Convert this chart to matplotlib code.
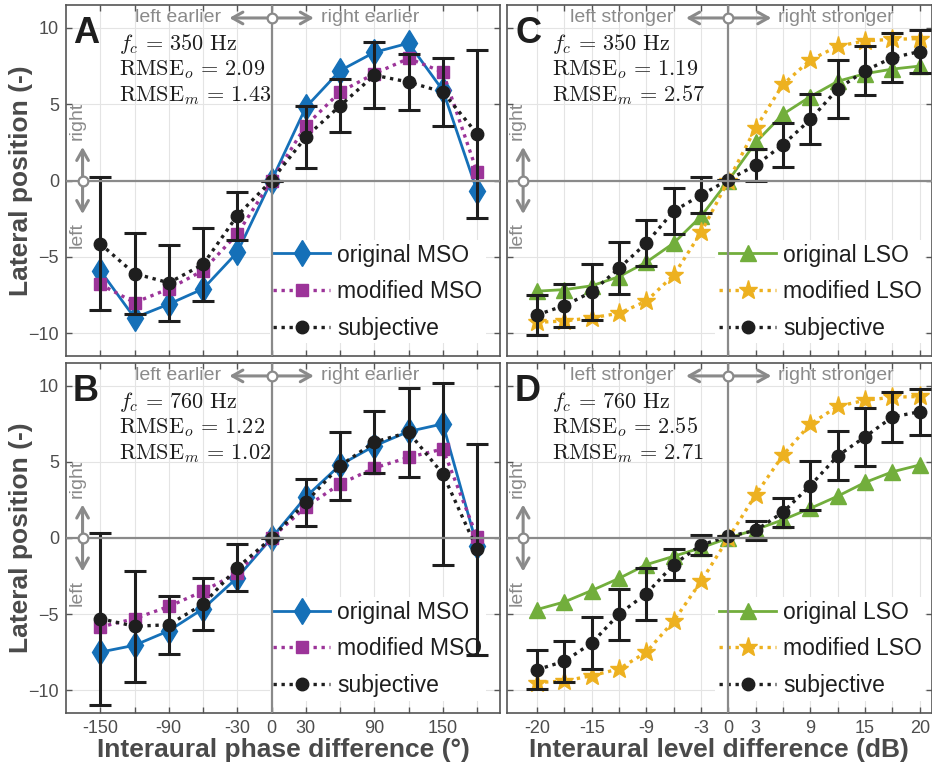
import numpy as np
import matplotlib
matplotlib.use('Agg')
import matplotlib.pyplot as plt

plt.rcParams['font.family'] = ['Liberation Sans', 'DejaVu Sans']
plt.rcParams['mathtext.fontset'] = 'cm'

# x values
ipd = [-150, -120, -90, -60, -30, 0, 30, 60, 90, 120, 150, 180]
ipd_shown = [-150, -90, -30, 0, 30, 90, 150]
ild = [-20, -18, -15, -12, -9, -6, -3, 0, 3, 6, 9, 12, 15, 18, 20]
ild_shown = [-20, -15, -9, -3, 0, 3, 9, 15, 20]

# panel A (IPD, 350 Hz)
a_orig = [-5.9, -9.0, -8.1, -7.1, -4.7, 0, 4.8, 7.2, 8.4, 9.0, 5.9, -0.7]
a_mod = [-6.8, -8.0, -7.1, -5.9, -3.5, 0, 3.6, 5.8, 7.0, 8.0, 7.1, 0.55]
a_subj = [-4.15, -6.1, -6.7, -5.5, -2.3, 0, 2.85, 4.9, 6.9, 6.45, 5.8, 3.05]
a_err = [4.35, 2.63, 2.5, 2.4, 1.57, 0, 2.03, 1.75, 2.18, 1.85, 2.23, 5.5]

# panel B (IPD, 760 Hz)
b_orig = [-7.5, -7.05, -6.1, -4.65, -2.6, 0, 2.7, 4.8, 6.05, 7.0, 7.5, -0.55]
b_mod = [-5.85, -5.3, -4.5, -3.5, -2.3, 0, 2.05, 3.55, 4.6, 5.3, 5.85, 0.05]
b_subj = [-5.3, -5.8, -5.7, -4.35, -1.95, 0, 2.35, 4.75, 6.3, 6.95, 4.2, -0.75]
b_err = [5.65, 3.64, 1.92, 1.72, 1.55, 0, 1.53, 2.23, 2.02, 2.93, 5.97, 6.93]

# panel C (ILD, 350 Hz)
c_orig = [-7.25, -7.15, -6.9, -6.3, -5.35, -4.1, -2.35, 0, 2.5, 4.35, 5.5, 6.5, 7.0, 7.3, 7.5]
c_mod = [-9.3, -9.2, -9.0, -8.7, -7.9, -6.2, -3.4, 0, 3.45, 6.3, 7.9, 8.8, 9.15, 9.25, 9.3]
c_subj = [-8.8, -8.2, -7.3, -5.75, -4.1, -2.0, -0.95, 0.05, 1.0, 2.35, 4.0, 6.0, 7.2, 8.05, 8.45]
c_err = [1.3, 1.42, 1.84, 1.72, 1.53, 1.5, 1.2, 0, 1.06, 1.45, 1.64, 1.88, 1.6, 1.62, 1.41]

# panel D (ILD, 760 Hz)
d_orig = [-4.7, -4.2, -3.45, -2.65, -1.75, -1.2, -0.65, 0, 0.55, 1.2, 1.95, 2.75, 3.65, 4.35, 4.8]
d_mod = [-9.5, -9.4, -9.05, -8.6, -7.5, -5.45, -2.85, 0, 2.85, 5.45, 7.5, 8.65, 9.05, 9.25, 9.3]
d_subj = [-8.65, -8.1, -6.9, -5.0, -3.65, -1.75, -0.45, 0.1, 0.5, 1.7, 3.45, 5.4, 6.65, 7.95, 8.3]
d_err = [1.3, 1.34, 1.69, 1.68, 1.71, 1.02, 0.66, 0, 0.6, 0.95, 1.62, 1.6, 1.89, 1.64, 1.5]

fc_text = ['350', '760', '350', '760']
rmse_o = ['2.09', '1.22', '1.19', '2.55']
rmse_m = ['1.43', '1.02', '2.57', '2.71']

blue = '#1570b8'
purple = '#9c3499'
green = '#72ae3c'
yellow = '#edb120'
black = '#1e1e1e'
gray = '#8a8a8a'
tickc = '#4d4d4d'

fig = plt.figure(figsize=(9.32, 7.67), dpi=100)
W, H = 932.0, 767.0


def make_ax(l, r, t, b):
    return fig.add_axes([l / W, 1 - b / H, (r - l) / W, (b - t) / H])


axA = make_ax(66, 500, 5, 356)
axB = make_ax(66, 500, 363, 713)
axC = make_ax(507, 931.5, 5, 356)
axD = make_ax(507, 931.5, 363, 713)

panels = [
    (axA, 'A', 'MSO', ipd, a_orig, a_mod, a_subj, a_err, blue, purple, 'd', 's'),
    (axB, 'B', 'MSO', ipd, b_orig, b_mod, b_subj, b_err, blue, purple, 'd', 's'),
    (axC, 'C', 'LSO', ild, c_orig, c_mod, c_subj, c_err, green, yellow, '^', '*'),
    (axD, 'D', 'LSO', ild, d_orig, d_mod, d_subj, d_err, green, yellow, '^', '*'),
]

arrow_style = '<->,head_length=0.75,head_width=0.42'

for k, (ax, letter, kind, xv, orig, mod, subj, err, c1, c2, m1, m2) in enumerate(panels):
    is_ipd = kind == 'MSO'
    if is_ipd:
        x = np.array(xv, dtype=float)
        x0 = 0.0
        ax.set_xlim(-180, 200)
        ax.set_xticks(x)
        ax.set_xticklabels([str(v) if v in ipd_shown else '' for v in xv])
        arr_l, arr_r = -37, 37
        txt_l, txt_r = -44, 43
        side_x, side_tx = -165.5, -170.5
        top_l, top_r = 'left earlier', 'right earlier'
        leg_x = 0.469
    else:
        x = np.arange(len(xv), dtype=float)
        x0 = float(xv.index(0))
        ax.set_xlim(-1.1, 14.43)
        ax.set_xticks(x)
        ax.set_xticklabels([str(v) if v in ild_shown else '' for v in xv])
        arr_l, arr_r = 5.45, 8.57
        txt_l, txt_r = 5.0, 8.8
        side_x, side_tx = -0.51, -0.73
        top_l, top_r = 'left stronger', 'right stronger'
        leg_x = 0.491

    ax.set_ylim(-11.5, 11.5)
    ax.set_yticks([-10, -5, 0, 5, 10])
    ax.grid(True, color='#e4e4e4', lw=0.8, zorder=0)
    ax.set_axisbelow(True)
    # zero lines sit on top of everything, as in the original
    ax.axhline(0, color=gray, lw=1.6, zorder=10)
    ax.axvline(x0, color=gray, lw=1.6, zorder=10)

    ax.tick_params(direction='in', length=4, width=1, color='#555555', top=True, right=True,
                   labelsize=13, labelcolor=tickc, pad=5)
    for s in ax.spines.values():
        s.set_color('#555555')
        s.set_linewidth(1.2)

    ms1 = 13.5 if m1 == 'd' else 11
    ms2 = 14 if m2 == '*' else 8

    l1, = ax.plot(x, orig, '-', color=c1, lw=2, marker=m1, ms=ms1, mec=c1, mfc=c1, zorder=3,
                  label='original ' + kind)
    l2, = ax.plot(x, mod, linestyle=(0, (1, 1.4)), color=c2, lw=2.4, marker=m2, ms=ms2, mec=c2, mfc=c2,
                  zorder=4, label='modified ' + kind)
    ax.errorbar(x, subj, yerr=err, fmt='none', ecolor=black, elinewidth=2.2, capsize=8, capthick=2.2,
                zorder=5)
    l3, = ax.plot(x, subj, linestyle=(0, (1, 1.4)), color=black, lw=2.4, marker='o', ms=9, mec=black,
                  mfc=black, zorder=6, label='subjective')

    leg = ax.legend(handles=[l1, l2, l3], loc='center left', bbox_to_anchor=(leg_x, 0.183),
                    fontsize=16.5, frameon=True, facecolor='white', edgecolor='none', framealpha=1,
                    fancybox=False, borderpad=0.15, handlelength=2.5, handletextpad=0.3, labelspacing=0.6,
                    borderaxespad=0)
    # data (error bars) are drawn over the legend in the original
    leg.set_zorder(2.5)
    for t in leg.get_texts():
        t.set_color('#1e1e1e')

    # top arrow and labels
    ytop = 10.65
    ax.annotate('', xy=(arr_l, ytop), xytext=(arr_r, ytop),
                arrowprops=dict(arrowstyle=arrow_style, color=gray, lw=2.2, shrinkA=0, shrinkB=0), zorder=11)
    ax.plot([x0], [ytop], 'o', ms=7, mfc='white', mec=gray, mew=1.6, zorder=12)
    ax.text(txt_l, ytop, top_l, ha='right', va='center', fontsize=14, color=gray, zorder=12)
    ax.text(txt_r, ytop, top_r, ha='left', va='center', fontsize=14, color=gray, zorder=12)

    # side arrow and labels
    ax.annotate('', xy=(side_x, 2.2), xytext=(side_x, -2.2),
                arrowprops=dict(arrowstyle=arrow_style, color=gray, lw=2.2, shrinkA=0, shrinkB=0), zorder=11)
    ax.plot([side_x], [0], 'o', ms=7, mfc='white', mec=gray, mew=1.6, zorder=12)
    ax.text(side_tx, 3.9, 'right', rotation=90, ha='center', va='center', fontsize=14, color=gray, zorder=12)
    ax.text(side_tx, -3.6, 'left', rotation=90, ha='center', va='center', fontsize=14, color=gray, zorder=12)

    # panel letter and model info
    lx = 0.016 if is_ipd else 0.019
    ax.text(lx, 0.892, letter, transform=ax.transAxes, fontsize=26, fontweight='bold', color='#1e1e1e',
            ha='left', va='baseline', zorder=12)
    tx = 0.122 if is_ipd else 0.105
    ax.text(tx, 0.872, r'$f_c \,=\, %s\ \mathrm{Hz}$' % fc_text[k], transform=ax.transAxes, fontsize=16,
            color='#1e1e1e', va='baseline', zorder=12)
    ax.text(tx, 0.8006, r'$\mathrm{RMSE}_o \,=\, %s$' % rmse_o[k], transform=ax.transAxes, fontsize=16,
            color='#1e1e1e', va='baseline', zorder=12)
    ax.text(tx, 0.7245, r'$\mathrm{RMSE}_m \,=\, %s$' % rmse_m[k], transform=ax.transAxes, fontsize=16,
            color='#1e1e1e', va='baseline', zorder=12)

    if letter in ('A', 'B'):
        ax.set_ylabel('Lateral position (-)', fontsize=19, fontweight='bold', color='#4a4a4a')
        ax.yaxis.set_label_coords(-0.076, 0.5)
    else:
        ax.set_yticklabels([])
    if letter in ('A', 'C'):
        ax.set_xticklabels([])

axB.set_xlabel('Interaural phase difference (°)', fontsize=19, fontweight='bold', color='#4a4a4a', labelpad=1)
axD.set_xlabel('Interaural level difference (dB)', fontsize=19, fontweight='bold', color='#4a4a4a', labelpad=1)

fig.savefig('out.png', dpi=100)
